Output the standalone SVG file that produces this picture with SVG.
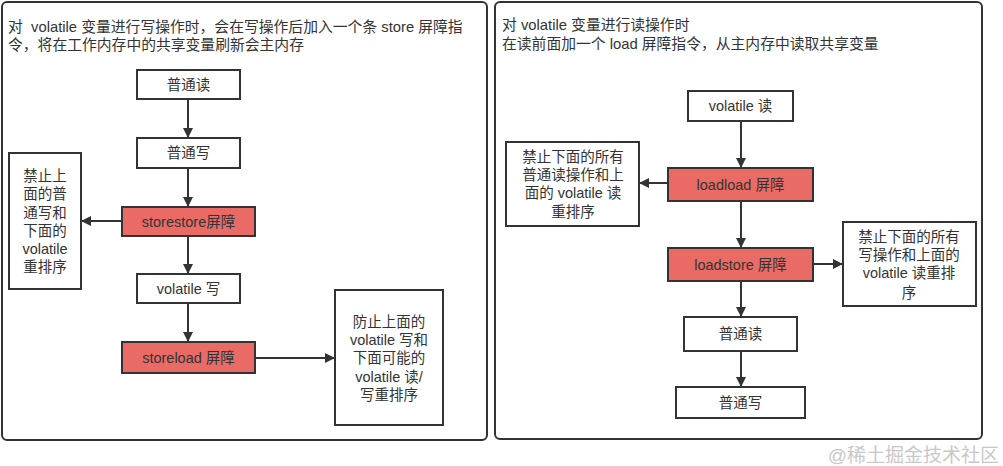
<svg xmlns="http://www.w3.org/2000/svg" width="1003" height="466" viewBox="0 0 1003 466">
<defs>
<style>
text{font-family:"Liberation Sans","Noto Sans CJK SC",sans-serif;fill:#333;}
.t{font-size:14.8px;white-space:pre;}
.n{font-size:14.5px;text-anchor:middle;dominant-baseline:central;}
.box{fill:#fff;stroke:#333;stroke-width:2;}
.red{fill:#EA6B66;stroke:#333;stroke-width:2;}
.panel{fill:#fff;stroke:#333;stroke-width:2;}
.c{stroke:#333;stroke-width:2;fill:none;marker-end:url(#ah);}
</style>
<marker id="ah" viewBox="0 0 10 10" refX="9" refY="5" markerWidth="5" markerHeight="5" orient="auto" markerUnits="strokeWidth">
<path d="M0,0 L10,5 L0,10 Z" fill="#333"/>
</marker>
</defs>
<rect width="1003" height="466" fill="#fff"/>
<g id="panel-left">
<rect class="panel" x="2" y="2" width="485" height="438" rx="5"/>
<text class="t" x="8" y="32" xml:space="preserve">对  volatile 变量进行写操作时，会在写操作后加入一个条 store 屏障指</text>
<text class="t" x="8" y="50">令，将在工作内存中的共享变量刷新会主内存</text>
</g>
<g id="panel-right">
<rect class="panel" x="495" y="2" width="487" height="437" rx="5"/>
<text class="t" x="502" y="30">对 volatile 变量进行读操作时</text>
<text class="t" x="502" y="49">在读前面加一个 load 屏障指令，从主内存中读取共享变量</text>
</g>
<g id="connectors">
<line class="c" x1="188" y1="99" x2="188" y2="137"/>
<line class="c" x1="188" y1="168" x2="188" y2="206"/>
<line class="c" x1="122" y1="221" x2="82" y2="221"/>
<line class="c" x1="188" y1="236" x2="188" y2="273"/>
<line class="c" x1="188" y1="303" x2="188" y2="341"/>
<line class="c" x1="255" y1="358" x2="334" y2="358"/>
<line class="c" x1="741" y1="121" x2="741" y2="167"/>
<line class="c" x1="668" y1="183" x2="640" y2="183"/>
<line class="c" x1="741" y1="201" x2="741" y2="247"/>
<line class="c" x1="813" y1="264" x2="842" y2="264"/>
<line class="c" x1="741" y1="281" x2="741" y2="316"/>
<line class="c" x1="741" y1="351" x2="741" y2="386"/>
</g>
<g id="l-read">
<rect class="box" x="137" y="70" width="103" height="29"/>
<text class="n" x="188.5" y="85">普通读</text>
</g>
<g id="l-write">
<rect class="box" x="137" y="138" width="103" height="30"/>
<text class="n" x="188.5" y="153">普通写</text>
</g>
<g id="l-storestore">
<rect class="red" x="122" y="207" width="133" height="29"/>
<text class="n" x="188.5" y="222">storestore屏障</text>
</g>
<g id="l-vwrite">
<rect class="box" x="137" y="274" width="103" height="29"/>
<text class="n" x="188.5" y="289">volatile 写</text>
</g>
<g id="l-storeload">
<rect class="red" x="122" y="342" width="133" height="31"/>
<text class="n" x="188.5" y="358">storeload 屏障</text>
</g>
<g id="l-note1">
<rect class="box" x="9" y="153" width="72" height="136"/>
<text class="n" x="45" y="176">禁止上</text>
<text class="n" x="45" y="194">面的普</text>
<text class="n" x="45" y="213">通写和</text>
<text class="n" x="45" y="231">下面的</text>
<text class="n" x="45" y="249">volatile</text>
<text class="n" x="45" y="267">重排序</text>
</g>
<g id="l-note2">
<rect class="box" x="335" y="290" width="108" height="135"/>
<text class="n" x="389" y="322">防止上面的</text>
<text class="n" x="389" y="340">volatile 写和</text>
<text class="n" x="389" y="358">下面可能的</text>
<text class="n" x="389" y="377">volatile 读/</text>
<text class="n" x="389" y="395">写重排序</text>
</g>
<g id="r-vread">
<rect class="box" x="688" y="91" width="105" height="30"/>
<text class="n" x="740.5" y="106">volatile 读</text>
</g>
<g id="r-loadload">
<rect class="red" x="668" y="168" width="145" height="33"/>
<text class="n" x="740.5" y="184.5">loadload 屏障</text>
</g>
<g id="r-loadstore">
<rect class="red" x="668" y="248" width="145" height="33"/>
<text class="n" x="740.5" y="264.5">loadstore 屏障</text>
</g>
<g id="r-read">
<rect class="box" x="684" y="317" width="113" height="34"/>
<text class="n" x="740.5" y="334">普通读</text>
</g>
<g id="r-write">
<rect class="box" x="676" y="387" width="129" height="31"/>
<text class="n" x="740.5" y="402.5">普通写</text>
</g>
<g id="r-note1">
<rect class="box" x="506" y="142" width="133" height="84"/>
<text class="n" x="573" y="157">禁止下面的所有</text>
<text class="n" x="573" y="175">普通读操作和上</text>
<text class="n" x="573" y="193">面的 volatile 读</text>
<text class="n" x="573" y="212">重排序</text>
</g>
<g id="r-note2">
<rect class="box" x="843" y="222" width="133" height="84"/>
<text class="n" x="909" y="237">禁止下面的所有</text>
<text class="n" x="909" y="255">写操作和上面的</text>
<text class="n" x="909" y="273">volatile 读重排</text>
<text class="n" x="909" y="293">序</text>
</g>
<text x="999" y="462" style="font-size:19px;fill:#c8c8c8;text-anchor:end;">@稀土掘金技术社区</text>
</svg>
